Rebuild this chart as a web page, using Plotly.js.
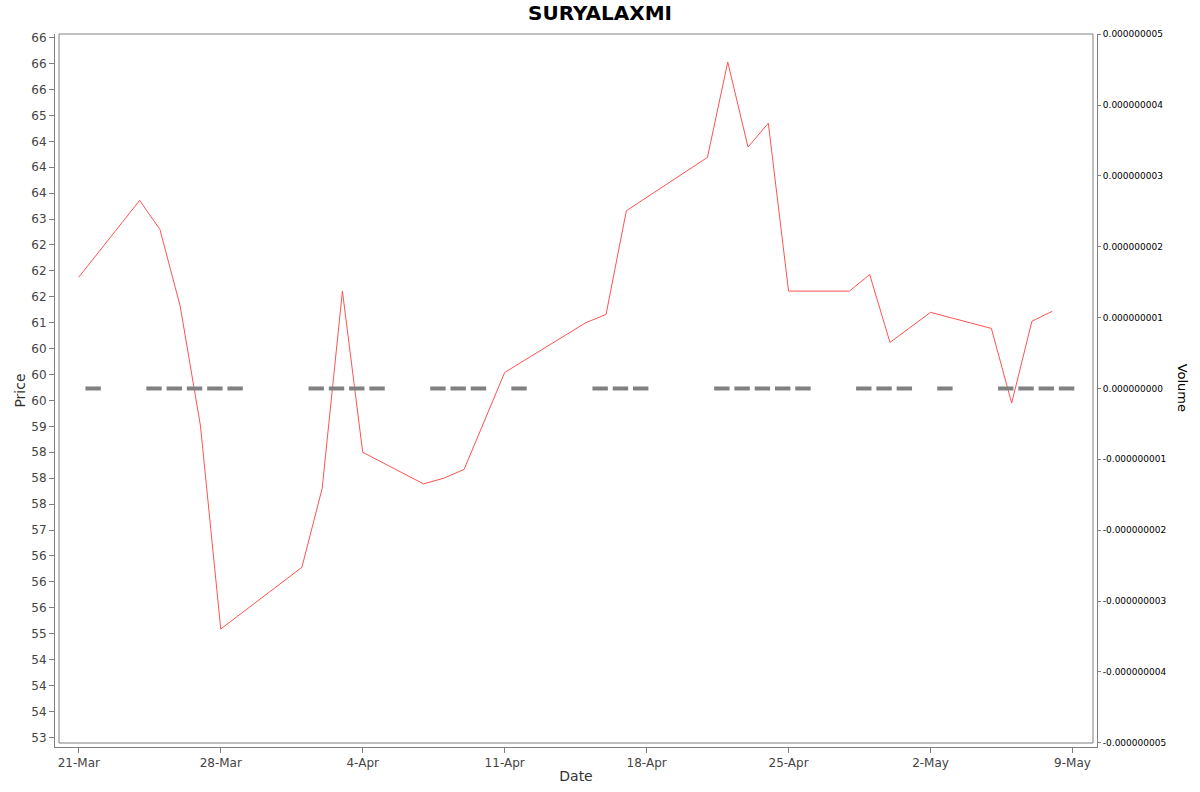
<!DOCTYPE html>
<html>
<head>
<meta charset="utf-8">
<script src="https://cdn.plot.ly/plotly-3.0.1.min.js"></script>
<style>html,body{margin:0;padding:0;background:#fff;}#chart{width:1200px;height:792px;}</style>
</head>
<body>
<div id="chart"></div>
<script>
const dates = ['2025-03-21','2025-03-24','2025-03-25','2025-03-26','2025-03-27','2025-03-28',
  '2025-04-01','2025-04-02','2025-04-03','2025-04-04','2025-04-07','2025-04-08','2025-04-09',
  '2025-04-11','2025-04-15','2025-04-16','2025-04-17','2025-04-21','2025-04-22','2025-04-23',
  '2025-04-24','2025-04-25','2025-04-28','2025-04-29','2025-04-30','2025-05-02','2025-05-05',
  '2025-05-06','2025-05-07','2025-05-08'];
const prices = [61.88,63.36,62.80,61.32,59.01,55.09,
  56.28,57.80,61.61,58.50,57.89,58.00,58.17,
  60.04,61.00,61.16,63.16,64.19,66.03,64.39,
  64.85,61.61,61.61,61.93,60.62,61.20,60.89,
  59.45,61.03,61.22];
const volumes = [0,0,0,0,0,0, 0,0,0,0,0,0,0, 0,0,0,0,0,0,0, 0,0,0,0,0,0,0, 0,0,0];

const xTickVals = ['2025-03-21','2025-03-28','2025-04-04','2025-04-11','2025-04-18','2025-04-25','2025-05-02','2025-05-09'];
const xTickText = ['21-Mar','28-Mar','4-Apr','11-Apr','18-Apr','25-Apr','2-May','9-May'];
const priceTickVals = [53,53.5,54,54.5,55,55.5,56,56.5,57,57.5,58,58.5,59,59.5,60,60.5,61,61.5,62,62.5,63,63.5,64,64.5,65,65.5,66,66.5];
const priceTickText = ['53','54','54','54','55','56','56','56','57','58','58','58','59','60','60','60','61','62','62','62','63','64','64','64','65','66','66','66'];
const volTickVals = [-5e-9,-4e-9,-3e-9,-2e-9,-1e-9,0,1e-9,2e-9,3e-9,4e-9,5e-9];
const volTickText = ['-0.000000005','-0.000000004','-0.000000003','-0.000000002','-0.000000001','0.000000000','0.000000001','0.000000002','0.000000003','0.000000004','0.000000005'];

const xRange = ['2025-03-19 19:50','2025-05-10 05:00'];
const barShiftMs = 17*3600*1000;
function shiftDate(s, ms){ const d = new Date(s.replace(' ','T')+'Z'); return new Date(d.getTime()-ms).toISOString().replace('T',' ').slice(0,19); }

const priceTrace = {
  x: dates, y: prices, type: 'scatter', mode: 'lines',
  line: {color: '#ff5252', width: 1},
  xaxis: 'x', yaxis: 'y', hoverinfo: 'x+y', showlegend: false
};
const volTrace = {
  x: dates, y: volumes, type: 'scatter', mode: 'markers',
  marker: {symbol: 'line-ew', size: 11, color: '#808080', line: {color: '#808080', width: 4}},
  xaxis: 'x2', yaxis: 'y2', showlegend: false
};

const gray = '#808080';
const layout = {
  width: 1200, height: 792,
  margin: {l: 55, r: 103, t: 34, b: 45},
  paper_bgcolor: '#fff', plot_bgcolor: '#fff',
  showlegend: false,
  title: {text: '<b>SURYALAXMI</b>', x: 0.5, xanchor: 'center', y: 0.984, yanchor: 'middle',
          font: {family: 'DejaVu Sans', size: 20, color: '#000'}},
  xaxis: {
    type: 'date', range: xRange, tickvals: xTickVals, ticktext: xTickText,
    showgrid: false, zeroline: false, showline: true, linecolor: gray, linewidth: 1,
    ticks: 'outside', ticklen: 5, tickcolor: gray,
    tickfont: {family: 'DejaVu Sans', size: 12, color: '#444'},
    title: {text: 'Date', standoff: 1, font: {family: 'DejaVu Sans', size: 14, color: '#333'}},
    fixedrange: true
  },
  xaxis2: {
    type: 'date', overlaying: 'x', visible: false,
    range: [shiftDate(xRange[0], barShiftMs), shiftDate(xRange[1], barShiftMs)],
    fixedrange: true
  },
  yaxis: {
    range: [52.813, 66.571], tickvals: priceTickVals, ticktext: priceTickText,
    showgrid: false, zeroline: false, showline: true, linecolor: gray, linewidth: 1,
    ticks: 'outside', ticklen: 5, tickcolor: gray,
    tickfont: {family: 'DejaVu Sans', size: 12, color: '#444'},
    title: {text: 'Price', standoff: 2, font: {family: 'DejaVu Sans', size: 14, color: '#333'}},
    fixedrange: true
  },
  yaxis2: {
    overlaying: 'y', side: 'right', anchor: 'x',
    range: [-5.061e-9, 5.004e-9], tickvals: volTickVals, ticktext: volTickText,
    showgrid: false, zeroline: false, showline: true, linecolor: gray, linewidth: 1,
    ticks: 'outside', ticklen: 3, tickcolor: gray,
    tickfont: {family: 'DejaVu Sans', size: 9, color: '#000'},
    fixedrange: true
  },
  shapes: [{
    type: 'rect', xref: 'paper', yref: 'paper',
    x0: 4/1042, x1: 1 - 4/1042, y0: 4/713, y1: 1,
    line: {color: gray, width: 1}, fillcolor: 'rgba(0,0,0,0)', layer: 'above'
  }],
  annotations: [{
    text: 'Volume', xref: 'paper', yref: 'paper', x: 1 + 85/1042, y: 0.504,
    xanchor: 'center', yanchor: 'middle', textangle: 90, showarrow: false,
    font: {family: 'DejaVu Sans', size: 13, color: '#000'}
  }]
};

Plotly.newPlot('chart', [volTrace, priceTrace], layout, {displayModeBar: false, staticPlot: true});
</script>
</body>
</html>
